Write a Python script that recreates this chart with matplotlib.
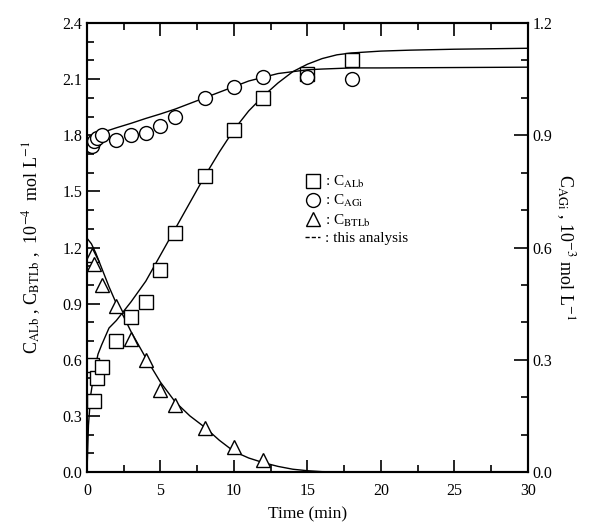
import numpy as np
import matplotlib
matplotlib.use("Agg")
import matplotlib.pyplot as plt
from matplotlib.lines import Line2D
from matplotlib.ticker import MultipleLocator, FormatStrFormatter

plt.rcParams['font.family'] = ['Liberation Serif', 'DejaVu Serif']
plt.rcParams['mathtext.fontset'] = 'stix'

# measured points (left axis, 10^-4 mol/L)
t_alb = [0.33, 0.5, 0.67, 1.0, 2, 3, 4, 5, 6, 8, 10, 12, 15, 18]
c_alb = [0.57, 0.38, 0.50, 0.56, 0.70, 0.83, 0.91, 1.08, 1.28, 1.58, 1.83, 2.00, 2.13, 2.20]

t_btlb = [0.33, 0.5, 1, 2, 3, 4, 5, 6, 8, 10, 12]
c_btlb = [1.16, 1.11, 1.00, 0.89, 0.71, 0.60, 0.44, 0.36, 0.235, 0.135, 0.065]

# measured points (right axis, 10^-3 mol/L)
t_agi = [0.33, 0.5, 0.67, 1.0, 2, 3, 4, 5, 6, 8, 10, 12, 15, 18]
c_agi = [0.872, 0.885, 0.893, 0.90, 0.888, 0.90, 0.905, 0.925, 0.95, 1.00, 1.03, 1.055, 1.055, 1.05]

# model curves ("this analysis")
tm_alb = [0, 0.1, 0.25, 0.5, 0.75, 1, 1.5, 2, 2.5, 3, 4, 5, 6, 7, 8, 9, 10, 11, 12,
          13, 14, 15, 16, 17, 18, 20, 22, 25, 30]
cm_alb = [0, 0.25, 0.41, 0.54, 0.63, 0.68, 0.77, 0.81, 0.86, 0.91, 1.02, 1.16, 1.30,
          1.44, 1.58, 1.71, 1.83, 1.93, 2.01, 2.08, 2.14, 2.18, 2.21, 2.23, 2.24,
          2.25, 2.255, 2.26, 2.265]

tm_btlb = [0, 0.3, 0.6, 1, 1.5, 2, 2.5, 3, 4, 5, 6, 7, 8, 9, 10, 11, 12, 13, 14, 15,
           16, 18, 20, 30]
cm_btlb = [1.25, 1.22, 1.17, 1.09, 0.99, 0.90, 0.83, 0.75, 0.61, 0.48, 0.375, 0.30,
           0.24, 0.17, 0.11, 0.075, 0.05, 0.03, 0.015, 0.007, 0.002, 0.0, 0.0, 0.0]

tm_agi = [0, 0.02, 0.3, 1, 2, 3, 4, 5, 6, 7, 8, 9, 10, 11, 12, 13, 14, 15, 16, 18,
          20, 25, 30]
cm_agi = [0, 0.87, 0.895, 0.907, 0.92, 0.932, 0.945, 0.957, 0.97, 0.985, 1.0, 1.015,
          1.03, 1.045, 1.055, 1.065, 1.07, 1.075, 1.077, 1.08, 1.08, 1.081, 1.082]

fig = plt.figure(figsize=(5.97, 5.28), dpi=100)
ax = fig.add_axes([0.1457, 0.106, 0.7387, 0.8504])
ax2 = ax.twinx()

mk = dict(mfc='white', mec='black', mew=1.0, ms=10, ls='none')
ax.plot(tm_alb, cm_alb, color='black', lw=1.0)
ax.plot(tm_btlb, cm_btlb, color='black', lw=1.0)
ax2.plot(tm_agi, cm_agi, color='black', lw=1.0)
ax.plot(t_alb, c_alb, marker='s', **mk)
ax.plot(t_btlb, c_btlb, marker='^', **mk)
ax2.plot(t_agi, c_agi, marker='o', **mk)

ax.set_xlim(0, 30)
ax.set_ylim(0, 2.4)
ax2.set_ylim(0, 1.2)

ax.xaxis.set_major_locator(MultipleLocator(5))
ax.xaxis.set_minor_locator(MultipleLocator(2.5))
ax.yaxis.set_major_locator(MultipleLocator(0.3))
ax.yaxis.set_minor_locator(MultipleLocator(0.1))
ax.yaxis.set_major_formatter(FormatStrFormatter('%.1f'))
ax2.yaxis.set_major_locator(MultipleLocator(0.3))
ax2.yaxis.set_minor_locator(MultipleLocator(0.1))
ax2.yaxis.set_major_formatter(FormatStrFormatter('%.1f'))

ax.tick_params(which='both', direction='in', top=True, right=False, labelsize=11.5, width=1.2)
ax.tick_params(which='major', length=9)
ax.tick_params(which='minor', length=5)
ax2.tick_params(which='both', direction='in', labelsize=11.5, width=1.2)
ax2.tick_params(which='major', length=10)
ax2.tick_params(which='minor', length=5)
ax.tick_params(axis='x', pad=8)

for a in (ax, ax2):
    for s in a.spines.values():
        s.set_linewidth(1.5)

ax.set_xlabel('Time (min)', fontsize=12.5, labelpad=5)
ax.set_ylabel(r'C$_{\rm ALb}$ , C$_{\rm BTLb}$ ,  10$^{-4}$  mol L$^{-1}$', fontsize=13, labelpad=14)
ax2.set_ylabel(r'C$_{\rm AGi}$ , 10$^{-3}$ mol L$^{-1}$', fontsize=13, rotation=270, labelpad=17)

handles = [
    Line2D([], [], marker='s', mfc='white', mec='black', ms=10, ls='none'),
    Line2D([], [], marker='o', mfc='white', mec='black', ms=10, ls='none'),
    Line2D([], [], marker='^', mfc='white', mec='black', ms=10, ls='none'),
    Line2D([], [], color='black', lw=1.0, dashes=(3, 1.5)),
]
labels = [r': C$_{\rm ALb}$', r': C$_{\rm AGi}$', r': C$_{\rm BTLb}$', ': this analysis']
ax.legend(handles, labels, loc='upper left', bbox_to_anchor=(0.481, 0.677), frameon=False,
          fontsize=11, handlelength=1.0, handletextpad=0.3, labelspacing=0.2,
          borderaxespad=0)

fig.savefig('out.png', dpi=100)
